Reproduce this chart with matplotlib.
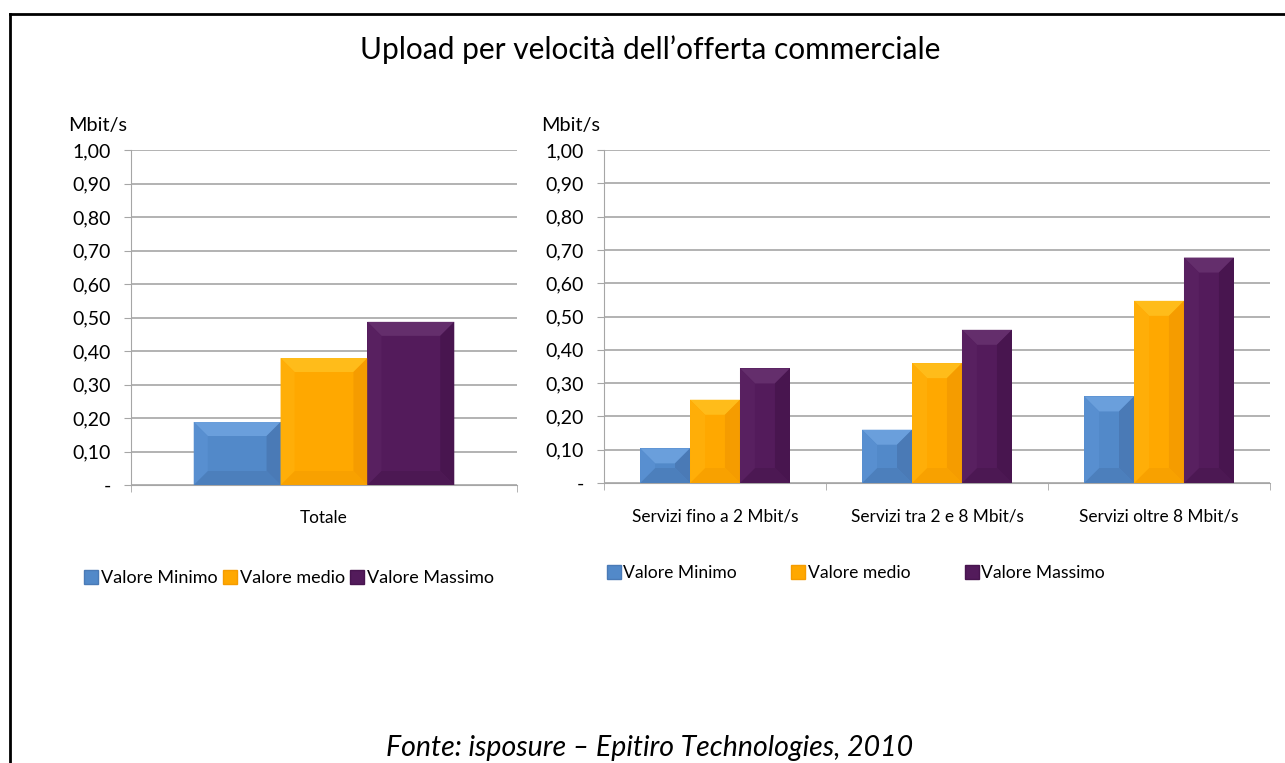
import matplotlib
matplotlib.use("Agg")
import matplotlib.pyplot as plt
import numpy as np
from matplotlib.patches import Polygon
from matplotlib.lines import Line2D

plt.rcParams.update({
    "font.family": ["Lato", "DejaVu Sans"],
    "font.size": 11,
})

# data
series = ["Valore Minimo", "Valore medio", "Valore Massimo"]
total_cats = ["Totale"]
total_vals = [[0.188], [0.379], [0.487]]
speed_cats = ["Servizi fino a 2 Mbit/s", "Servizi tra 2 e 8 Mbit/s", "Servizi oltre 8 Mbit/s"]
speed_vals = [
    [0.104, 0.160, 0.260],   # minimo
    [0.250, 0.360, 0.547],   # medio
    [0.344, 0.460, 0.677],   # massimo
]
yticks = [0.0, 0.1, 0.2, 0.3, 0.4, 0.5, 0.6, 0.7, 0.8, 0.9, 1.0]

# face, top, left, right, bottom
palette = [
    ("#5289C9", "#6A9FDC", "#588FD0", "#4A7AB6", "#4C7FBC"),
    ("#FFA800", "#FFBC1A", "#FFAE08", "#F59C00", "#F8A100"),
    ("#531B5B", "#642E6C", "#582060", "#48154F", "#4C1853"),
]
grid_c = "#A6A6A6"


def bevel(ax, bars, cols, px=12):
    """Fake Excel bevel: four trapezoids around a flat face."""
    inv = ax.transData.inverted()
    for b in bars:
        x0, y0 = b.get_x(), 0
        x1, y1 = x0 + b.get_width(), b.get_height()
        (X0, Y0), (X1, Y1) = ax.transData.transform([(x0, y0), (x1, y1)])
        p = min(px, (X1 - X0) / 3, (Y1 - Y0) / 2.2)
        outer = [(X0, Y1), (X1, Y1), (X1, Y0), (X0, Y0)]
        inner = [(X0 + p, Y1 - p), (X1 - p, Y1 - p), (X1 - p, Y0 + p), (X0 + p, Y0 + p)]
        sides = [
            (cols[1], [outer[0], outer[1], inner[1], inner[0]]),
            (cols[3], [outer[1], outer[2], inner[2], inner[1]]),
            (cols[4], [outer[2], outer[3], inner[3], inner[2]]),
            (cols[2], [outer[3], outer[0], inner[0], inner[3]]),
        ]
        for c, pts in sides:
            ax.add_patch(Polygon(inv.transform(pts), closed=True, facecolor=c,
                                 edgecolor="none", zorder=3))


def style_axis(ax, ncat):
    ax.set_ylim(0, 1.0)
    ax.set_xlim(-0.5, ncat - 0.5)
    ax.set_yticks(yticks)
    ax.set_yticklabels(["-"] + [f"{v:.2f}".replace(".", ",") for v in yticks[1:]])
    ax.yaxis.grid(True, color=grid_c, linewidth=1.2)
    ax.set_axisbelow(True)
    for s in ("top", "right"):
        ax.spines[s].set_visible(False)
    ax.spines["left"].set_color(grid_c)
    ax.spines["bottom"].set_color(grid_c)
    ax.tick_params(axis="y", length=5, color=grid_c, pad=9.5, labelsize=14)
    ax.set_xticks(np.arange(ncat))
    ax.tick_params(axis="x", length=0, pad=18, labelsize=12.4)
    # category separators
    ax.set_xticks(np.arange(-0.5, ncat, 1.0), minor=True)
    ax.tick_params(axis="x", which="minor", length=5, color=grid_c)
    ax.annotate("Mbit/s", xy=(0, 1), xycoords="axes fraction",
                xytext=(-4, 16), textcoords="offset pixels",
                ha="right", va="bottom", fontsize=14.3)


fig = plt.figure(figsize=(12.85, 7.63), dpi=100)
W, H = 1285, 763


def axes_px(x0, y0, x1, y1):
    return fig.add_axes([x0 / W, 1 - y1 / H, (x1 - x0) / W, (y1 - y0) / H])


ax1 = axes_px(131, 150, 517, 485)
ax2 = axes_px(604, 150, 1270, 483)

style_axis(ax1, 1)
style_axis(ax2, 3)
ax1.set_xticklabels(total_cats)
ax2.set_xticklabels(speed_cats)

w1 = 0.225
x1 = np.arange(len(total_cats))
bars1 = []
for i, (name, vals) in enumerate(zip(series, total_vals)):
    b = ax1.bar(x1 + (i - 1) * w1, vals, w1, color=palette[i][0], label=name, zorder=2)
    bars1.append(b)

w2 = 0.225
x2 = np.arange(len(speed_cats))
bars2 = []
for i, (name, vals) in enumerate(zip(series, speed_vals)):
    b = ax2.bar(x2 + (i - 1) * w2, vals, w2, color=palette[i][0], label=name, zorder=2)
    bars2.append(b)

for i, b in enumerate(bars1):
    bevel(ax1, b, palette[i], px=14)
for i, b in enumerate(bars2):
    bevel(ax2, b, palette[i], px=15)

handles = [Line2D([], [], marker="s", linestyle="none", markersize=10,
                  markerfacecolor=palette[i][0], markeredgecolor=palette[i][3])
           for i in range(3)]
fig.legend(handles, series, loc="center", bbox_to_anchor=(288 / W, 1 - 578 / H),
           ncol=3, frameon=False, fontsize=13, handletextpad=0.05,
           columnspacing=0.2, handlelength=1.0)
fig.legend(handles, series, loc="center", bbox_to_anchor=(855 / W, 1 - 573 / H),
           ncol=3, frameon=False, fontsize=12.6, handletextpad=0.05,
           columnspacing=3.0, handlelength=1.0)

fig.text(650 / W, 1 - 50 / H, "Upload per velocità dell\u2019offerta commerciale",
         ha="center", va="center", fontsize=21.5)
fig.text(650 / W, 1 - 748 / H, "Fonte: isposure \u2013 Epitiro Technologies, 2010",
         ha="center", va="center", fontsize=20.5, style="italic")

# outer frame (left and top edges only visible)
fig.add_artist(Line2D([10 / W, 10 / W], [0, 1 - 14 / H], transform=fig.transFigure,
                      color="black", linewidth=2))
fig.add_artist(Line2D([10 / W, 1], [1 - 14 / H, 1 - 14 / H], transform=fig.transFigure,
                      color="black", linewidth=2))

fig.savefig("out.png", dpi=100)
